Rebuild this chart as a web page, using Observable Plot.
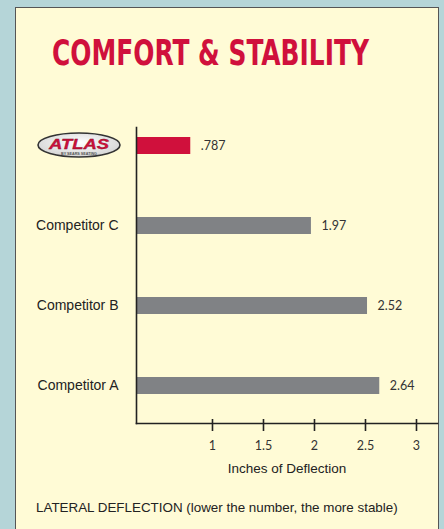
<!DOCTYPE html>
<html><head><meta charset="utf-8">
<script src="https://cdn.jsdelivr.net/npm/d3@7"></script>
<script src="https://cdn.jsdelivr.net/npm/@observablehq/plot@0.6"></script>
<style>
body{margin:0;width:444px;height:529px;overflow:hidden;position:relative;background:#b5d5d8;}
#panel{position:absolute;left:15px;top:7px;width:422px;height:560px;background:#fffbd6;border:1.5px solid #555;}
#title{position:absolute;left:52px;top:36px;font-family:"DejaVu Sans Condensed","Liberation Sans",sans-serif;font-weight:bold;font-size:35px;line-height:1;color:#d0103c;white-space:nowrap;transform-origin:0 0;}
#chart{position:absolute;left:0;top:0;}
#caption{position:absolute;left:36px;top:500px;font-family:"Liberation Sans",Arial,sans-serif;font-size:13.4px;color:#222;white-space:nowrap;}
#logo{position:absolute;left:36px;top:131px;}
</style></head>
<body>
<div id="panel"></div>
<div id="title">COMFORT &amp; STABILITY</div>
<div id="chart"></div>
<svg id="logo" width="88" height="30" viewBox="0 0 88 30">
  <defs><radialGradient id="g" cx="50%" cy="40%" r="60%"><stop offset="0" stop-color="#ffffff"/><stop offset="1" stop-color="#d4d4d4"/></radialGradient></defs>
  <ellipse cx="43" cy="14" rx="41" ry="12" fill="url(#g)" stroke="#333" stroke-width="1.6"/>
  <text x="13" y="17.5" textLength="60" lengthAdjust="spacingAndGlyphs" font-family="Liberation Sans, Arial" font-weight="900" font-style="italic" font-size="14" fill="#d0103c" stroke="#7a0a20" stroke-width="0.3">ATLAS</text>
  <text x="43" y="23.5" text-anchor="middle" textLength="36" lengthAdjust="spacingAndGlyphs" font-family="Liberation Sans, Arial" font-weight="bold" font-size="3.8" fill="#555">BY SEARS SEATING</text>
</svg>
<div id="caption">LATERAL DEFLECTION (lower the number, the more stable)</div>
<script>
const categories = ["ATLAS", "Competitor C", "Competitor B", "Competitor A"];
const values = [0.787, 1.97, 2.52, 2.64];
const valueLabels = [".787", "1.97", "2.52", "2.64"];
const barColors = ["#d0103c", "#808285", "#808285", "#808285"];
const xTicks = [1, 1.5, 2, 2.5, 3];
const xDomain = [0.255, 3.206];

const data = categories.map((c, i) => ({name: c, value: values[i], label: valueLabels[i], color: barColors[i]}));

const chart = Plot.plot({
  width: 444,
  height: 490,
  marginTop: 127,
  marginBottom: 67,
  marginLeft: 136,
  marginRight: 7,
  style: {background: "transparent", fontFamily: "Liberation Sans, Arial, sans-serif", fontSize: "13px", color: "#222"},
  x: {domain: xDomain, ticks: xTicks, label: null},
  y: {domain: categories, paddingInner: 0.789, paddingOuter: 0.229, align: 0.257, label: null},
  color: {type: "identity"},
  marks: [
    Plot.barX(data, {x1: xDomain[0], x2: "value", y: "name", fill: "color"}),
    Plot.text(data, {x: "value", y: "name", text: "label", dx: 10, textAnchor: "start", fontFamily: "Lato, sans-serif", fontSize: 12.5, fill: "#333"}),
    Plot.axisY({tickSize: 0, tickPadding: 18, tickFormat: d => d === "ATLAS" ? "" : d, fontSize: 14, label: null}),
    Plot.axisX({ticks: xTicks, tickSize: 12, dy: -4, tickPadding: 10, strokeWidth: 1.6, tickFormat: d => String(d), fontFamily: "Lato, sans-serif", fontSize: 12.5, fill: "#333", label: null}),
    Plot.axisX({ticks: [], label: "Inches of Deflection", labelAnchor: "center", labelArrow: "none", labelOffset: 49, fontSize: 13.5, fill: "#222"}),
    Plot.frame({anchor: "left", stroke: "#222", strokeWidth: 1.6}),
    Plot.frame({anchor: "bottom", stroke: "#222", strokeWidth: 1.6})
  ]
});
document.getElementById("chart").appendChild(chart);

const t = document.getElementById("title");
const w = t.getBoundingClientRect().width;
t.style.transform = `scaleX(${317 / w})`;
</script>
</body></html>
